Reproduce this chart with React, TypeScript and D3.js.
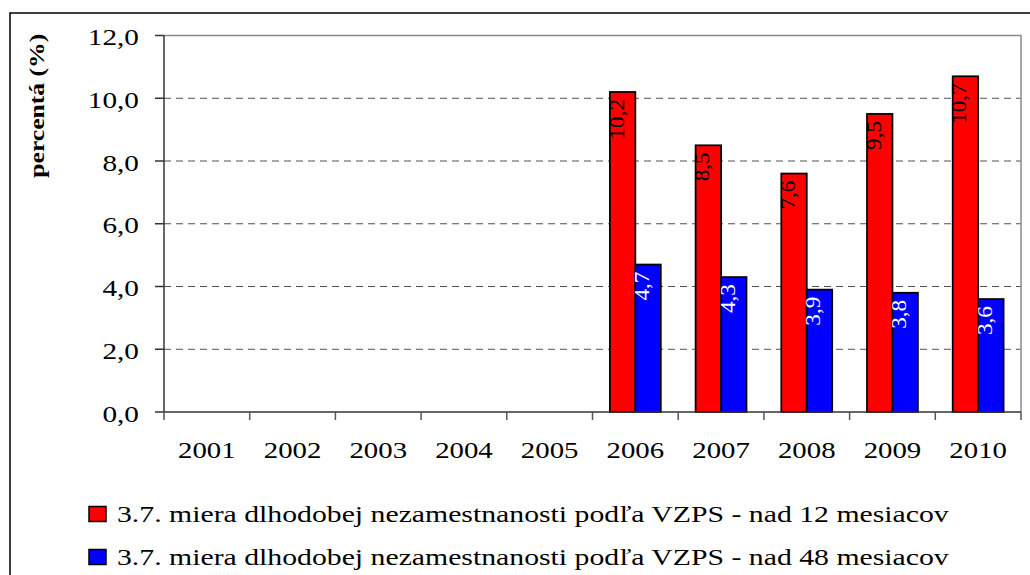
import React from 'react';
import * as d3 from 'd3';

const years = ['2001', '2002', '2003', '2004', '2005', '2006', '2007', '2008', '2009', '2010'];
const over12: (number | null)[] = [null, null, null, null, null, 10.2, 8.5, 7.6, 9.5, 10.7];
const over48: (number | null)[] = [null, null, null, null, null, 4.7, 4.3, 3.9, 3.8, 3.6];
const yTicks = [0, 2, 4, 6, 8, 10, 12];
const seriesNames = [
  '3.7. miera dlhodobej nezamestnanosti podľa VZPS - nad 12 mesiacov',
  '3.7. miera dlhodobej nezamestnanosti podľa VZPS - nad 48 mesiacov',
];
const seriesColors = ['#FF0000', '#0000FF'];
const labelColors = ['#000000', '#FFFFFF'];
const yTitle = 'percentá (%)';

const FONT = "'Liberation Serif', 'Times New Roman', Times, serif";

export default function App() {
  const W = 1030;
  const H = 575;
  const x0 = 164;
  const x1 = 1021;
  const yTop = 35.5;
  const yBot = 412;

  const x = d3.scaleBand<string>().domain(years).range([x0, x1]).paddingInner(0).paddingOuter(0);
  const y = d3.scaleLinear().domain([0, 12]).range([yBot, yTop]);
  const step = x.bandwidth();
  const barW = step * 0.297;
  const off = (step - 2 * barW) / 2;
  const fmt = (v: number) => d3.format('.1f')(v).replace('.', ',');
  const series = [over12, over48];
  const ts = { fontFamily: FONT };

  return (
    <svg
      width={W}
      height={H}
      style={{ position: 'absolute', left: 0, top: 0, background: '#fff', fontFamily: FONT }}
    >
      <rect x={0} y={0} width={W} height={H} fill="#fff" />
      {/* outer frame */}
      <rect x={10} y={13} width={W + 20} height={H + 20} fill="none" stroke="#000" strokeWidth={1.5} />

      {/* gridlines */}
      {yTicks.filter(t => t > 0 && t < 12).map(t => (
        <line key={'g' + t} x1={x0} x2={x1} y1={y(t)} y2={y(t)} stroke="#505050" strokeWidth={1} strokeDasharray="7,5" />
      ))}
      {/* plot border top/right */}
      <path d={`M${x0},${y(12)}H${x1}V${yBot}`} fill="none" stroke="#8a8a8a" strokeWidth={1.5} />

      {/* bars */}
      {series.map((s, si) =>
        s.map((v, i) =>
          v == null ? null : (
            <rect
              key={`b${si}-${i}`}
              x={(x(years[i]) as number) + off + si * barW}
              y={y(v)}
              width={barW}
              height={yBot - y(v)}
              fill={seriesColors[si]}
              stroke="#000"
              strokeWidth={1.75}
            />
          )
        )
      )}

      {/* value labels */}
      {series.map((s, si) =>
        s.map((v, i) => {
          if (v == null) return null;
          const cx = (x(years[i]) as number) + off + si * barW + barW / 2;
          return (
            <text
              key={`l${si}-${i}`}
              transform={`translate(${cx + 1},${y(v) + 7}) rotate(-90) scale(1.16,1)`}
              textAnchor="end"
              fontSize={20}
              fill={labelColors[si]}
              style={ts}
            >
              {fmt(v)}
            </text>
          );
        })
      )}

      {/* axes */}
      <line x1={x0} x2={x0} y1={y(12)} y2={yBot} stroke="#333" strokeWidth={1.5} />
      <line x1={x0} x2={x1} y1={yBot} y2={yBot} stroke="#333" strokeWidth={1.5} />
      {yTicks.map(t => (
        <line key={'yt' + t} x1={x0 - 9} x2={x0} y1={y(t)} y2={y(t)} stroke="#333" strokeWidth={1.5} />
      ))}
      {d3.range(years.length + 1).map(i => (
        <line key={'xt' + i} x1={x0 + i * step} x2={x0 + i * step} y1={yBot} y2={yBot + 8} stroke="#555" strokeWidth={1.5} />
      ))}

      {/* y tick labels */}
      {yTicks.map(t => (
        <text
          key={'yl' + t}
          transform={`translate(139,${y(t) + 9.5}) scale(1.22,1)`}
          textAnchor="end"
          fontSize={24}
          fill="#000"
          style={ts}
        >
          {fmt(t)}
        </text>
      ))}

      {/* x tick labels */}
      {years.map(yr => (
        <text
          key={'xl' + yr}
          transform={`translate(${(x(yr) as number) + step / 2},458) scale(1.2,1)`}
          textAnchor="middle"
          fontSize={24}
          fill="#000"
          style={ts}
        >
          {yr}
        </text>
      ))}

      {/* y title */}
      <text
        transform={`translate(44,${(y(12) + 180) / 2 - 2}) rotate(-90) scale(1.28,1)`}
        textAnchor="middle"
        fontSize={20}
        fontWeight="bold"
        fill="#000"
        style={ts}
      >
        {yTitle}
      </text>

      {/* legend */}
      {seriesNames.map((n, i) => (
        <g key={'lg' + i}>
          <rect x={89} y={506.5 + i * 43} width={17} height={15} fill={seriesColors[i]} stroke="#000" strokeWidth={1.5} />
          <text
            transform={`translate(117,${522 + i * 42.5}) scale(1.24,1)`}
            fontSize={24}
            fill="#000"
            style={ts}
          >
            {n}
          </text>
        </g>
      ))}
    </svg>
  );
}
